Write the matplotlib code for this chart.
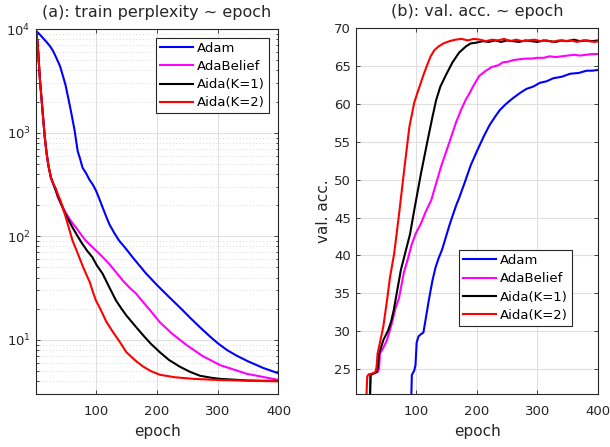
import numpy as np
import matplotlib
matplotlib.use('Agg')
import matplotlib.pyplot as plt
from matplotlib.ticker import LogLocator, NullFormatter

# ── Data ─────────────────────────────────────────────────────────────────────
labels = ["Adam", "AdaBelief", "Aida(K=1)", "Aida(K=2)"]
colors = ["#0000ff", "#ff00ff", "#000000", "#ff0000"]

# (a) train perplexity
adam_ep  = [1, 7, 13.5, 20, 25, 30, 35.5, 41, 46, 50, 55, 60, 65, 70, 74, 78,
            84, 89, 95, 100, 105, 111, 116, 122, 130, 138, 150, 160, 182,
            200, 220, 240, 255, 270, 285, 300, 315, 330, 350, 375, 400]
adam_ppl = [9700, 9000, 8150, 7400, 6800, 6100, 5200, 4400, 3500, 2900, 2100,
            1500, 1050, 665, 560, 460, 405, 355, 315, 277, 235, 190, 160, 131,
            108, 91, 75, 63, 44, 34, 26, 20, 16.3, 13.4, 11.1, 9.3, 8.0, 7.1,
            6.2, 5.35, 4.75]

early_ep  = [1, 4, 6, 8, 11, 13.5, 16, 19, 22, 26]
early_ppl = [9600, 7600, 5000, 3250, 2000, 1330, 900, 630, 480, 370]

adab_ep  = early_ep + [30, 34, 37, 44, 50, 58, 67, 75, 83, 92, 100, 110, 122,
                       133, 144, 155, 166, 174, 190, 205, 225, 249, 275, 304,
                       348, 400]
adab_ppl = early_ppl + [320, 280, 240, 200, 170, 143, 122, 105, 91, 81, 73, 64,
                        54, 45, 37.5, 32, 28, 24.5, 19, 14.8, 11.5, 8.9, 7.0,
                        5.7, 4.7, 4.1]

k1_ep  = early_ep + [30, 34, 40, 45, 52, 61.5, 70, 78, 86, 94, 101, 111, 124,
                     133, 142, 150, 165, 178, 190, 205, 220, 238, 255, 271,
                     290, 304, 350, 400]
k1_ppl = early_ppl + [320, 277, 225, 190, 155, 122, 100, 84, 72, 63, 53, 43.5,
                      30.5, 24, 20, 17.2, 13.5, 11, 9.2, 7.6, 6.4, 5.5, 4.9,
                      4.5, 4.3, 4.2, 4.05, 4.0]

k2_ep  = early_ep + [30, 34, 38, 42, 46, 50.5, 56, 61.5, 67, 72.5, 78, 84, 90,
                     95, 100, 107, 117, 128, 140, 150, 165, 178, 190, 205,
                     230, 260, 300, 350, 400]
k2_ppl = early_ppl + [320, 290, 250, 220, 185, 152, 118, 91, 76, 63, 52, 43,
                      36, 29, 24, 20, 15, 11.9, 9.4, 7.6, 6.3, 5.5, 5.0, 4.6,
                      4.35, 4.2, 4.1, 4.03, 3.97]

# (b) validation accuracy
adam_acc_ep = [92, 93, 97, 99, 101, 104, 108, 112, 115, 121, 127, 132, 137,
               143, 149, 155, 160, 166, 171, 180, 190, 201, 212, 221, 230,
               238, 248, 260, 272, 282, 293, 304, 315, 326, 340, 354, 368,
               381, 390, 400]
adam_acc = [21.0, 24.2, 24.8, 25.5, 28.5, 29.3, 29.6, 29.8, 31.2, 34.1, 36.7,
            38.4, 39.6, 40.8, 42.4, 44.0, 45.2, 46.6, 47.6, 49.6, 51.9, 53.9,
            55.8, 57.2, 58.3, 59.2, 60.0, 60.8, 61.5, 62.0, 62.3, 62.8, 63.0,
            63.4, 63.6, 64.0, 64.1, 64.4, 64.4, 64.5]

adab_acc_ep = [24, 25, 30, 37, 39, 40.5, 46, 52, 60, 66, 72, 80, 86, 93, 100,
               108, 116, 125, 133, 141, 150, 158, 166, 174, 182, 188, 193,
               204, 215, 225, 235, 243, 252, 260, 270, 280, 290, 300, 310,
               320, 330, 340, 350, 360, 370, 380, 390, 400]
adab_acc = [21.0, 24.2, 24.4, 24.6, 25.0, 27.0, 27.8, 28.8, 31.0, 33.0, 34.4,
            37.8, 39.4, 41.5, 43.0, 44.2, 45.8, 47.3, 49.5, 51.7, 53.8, 55.7,
            57.6, 59.2, 60.6, 61.4, 62.2, 63.7, 64.4, 64.9, 65.1, 65.5, 65.6,
            65.8, 65.9, 66.0, 66.0, 66.1, 66.1, 66.3, 66.2, 66.3, 66.4, 66.5,
            66.4, 66.5, 66.6, 66.6]

k1_acc_ep = [24, 25, 30, 35, 37, 39, 46, 54, 59, 63, 67, 75, 82, 90, 97, 108,
             119, 127, 133, 140, 149, 160, 171, 182, 190, 199, 210, 220, 230,
             240, 250, 260, 270, 280, 290, 300, 310, 320, 330, 340, 350, 360,
             370, 380, 390, 400]
k1_acc = [21.0, 24.2, 24.4, 24.6, 25.3, 27.0, 28.8, 30.1, 31.3, 32.7, 34.5,
          38.1, 40.3, 42.8, 46.0, 50.8, 55.2, 58.3, 60.5, 62.3, 63.8, 65.5,
          66.8, 67.6, 68.0, 68.1, 68.3, 68.2, 68.4, 68.2, 68.4, 68.3, 68.2,
          68.4, 68.3, 68.2, 68.4, 68.3, 68.2, 68.4, 68.3, 68.5, 68.3, 68.4,
          68.3, 68.4]

k2_acc_ep = [18, 19.5, 22, 28, 33, 35, 36.5, 40, 46, 52, 57, 64, 72, 81, 89,
             97, 104, 112, 118, 124, 130, 137, 145, 155, 165, 175, 185, 195,
             205, 215, 225, 235, 245, 255, 265, 275, 285, 295, 305, 315, 325,
             335, 345, 355, 365, 375, 385, 395, 400]
k2_acc = [21.0, 24.0, 24.3, 24.4, 24.6, 25.3, 27.0, 28.3, 30.6, 34.0, 37.1,
          40.3, 45.5, 51.7, 57.0, 60.2, 61.9, 63.8, 65.1, 66.3, 67.1, 67.6,
          68.0, 68.3, 68.5, 68.6, 68.4, 68.6, 68.5, 68.3, 68.5, 68.4, 68.6,
          68.3, 68.5, 68.3, 68.4, 68.5, 68.3, 68.4, 68.2, 68.4, 68.3, 68.4,
          68.2, 68.4, 68.3, 68.2, 68.3]

ppl_series = [(adam_ep, adam_ppl), (adab_ep, adab_ppl), (k1_ep, k1_ppl), (k2_ep, k2_ppl)]
acc_series = [(adam_acc_ep, adam_acc), (adab_acc_ep, adab_acc),
              (k1_acc_ep, k1_acc), (k2_acc_ep, k2_acc)]

# ── Style ────────────────────────────────────────────────────────────────────
plt.rcParams['font.family'] = 'DejaVu Sans'
dark = "#262626"
grid_c = "#dfdfdf"

fig = plt.figure(figsize=(6.10, 4.47), dpi=100)
ax1 = fig.add_axes([0.0585, 0.1186, 0.398, 0.816])
ax2 = fig.add_axes([0.5836, 0.1180, 0.397, 0.8187])


def style_axis(ax):
    for s in ax.spines.values():
        s.set_color(dark)
        s.set_linewidth(0.8)
    ax.tick_params(which='both', direction='in', top=True, right=True,
                   colors=dark, labelsize=9.5, length=3, width=0.6)
    ax.tick_params(axis='x', pad=8)
    ax.tick_params(which='minor', length=1.8)
    ax.set_axisbelow(True)
    ax.set_xlim(1, 400)
    ax.set_xticks([100, 200, 300, 400])
    ax.set_xlabel("epoch", fontsize=11, color=dark, labelpad=4)


# ── (a) train perplexity ─────────────────────────────────────────────────────
for (ep, val), c, lab in zip(ppl_series, colors, labels):
    ax1.plot(ep, val, color=c, lw=1.5, label=lab)
ax1.set_yscale('log')
ax1.set_ylim(3.0, 1e4)
ax1.yaxis.set_minor_locator(LogLocator(base=10, subs=np.arange(2, 10)))
ax1.yaxis.set_minor_formatter(NullFormatter())
ax1.grid(True, which='major', color=grid_c, lw=0.8)
ax1.grid(True, which='minor', axis='y', color="#cfcfcf", lw=0.6, ls=(0, (1, 3)))
style_axis(ax1)
ax1.set_title("(a): train perplexity ~ epoch", fontsize=11.5, color=dark, pad=9)
leg1 = ax1.legend(loc='upper right', bbox_to_anchor=(0.959, 0.977),
                  borderaxespad=0, fontsize=9.5, fancybox=False, framealpha=1,
                  edgecolor=dark, handlelength=2.5, handletextpad=0.3,
                  labelspacing=0.4, borderpad=0.3)
leg1.get_frame().set_linewidth(0.8)

# ── (b) val. acc. ────────────────────────────────────────────────────────────
for (ep, val), c, lab in zip(acc_series, colors, labels):
    ax2.plot(ep, val, color=c, lw=1.5, label=lab)
ax2.set_ylim(21.66, 70)
ax2.set_yticks(range(25, 71, 5))
ax2.grid(True, color=grid_c, lw=0.8)
style_axis(ax2)
ax2.set_ylabel("val. acc.", fontsize=11, color=dark, labelpad=2)
ax2.set_title("(b): val. acc. ~ epoch", fontsize=11.5, color=dark, pad=9)
leg2 = ax2.legend(loc='lower right', bbox_to_anchor=(0.890, 0.187),
                  borderaxespad=0, fontsize=9.5, fancybox=False, framealpha=1,
                  edgecolor=dark, handlelength=2.5, handletextpad=0.3,
                  labelspacing=0.4, borderpad=0.3)
leg2.get_frame().set_linewidth(0.8)

plt.savefig("out.png", dpi=100)
plt.close()
